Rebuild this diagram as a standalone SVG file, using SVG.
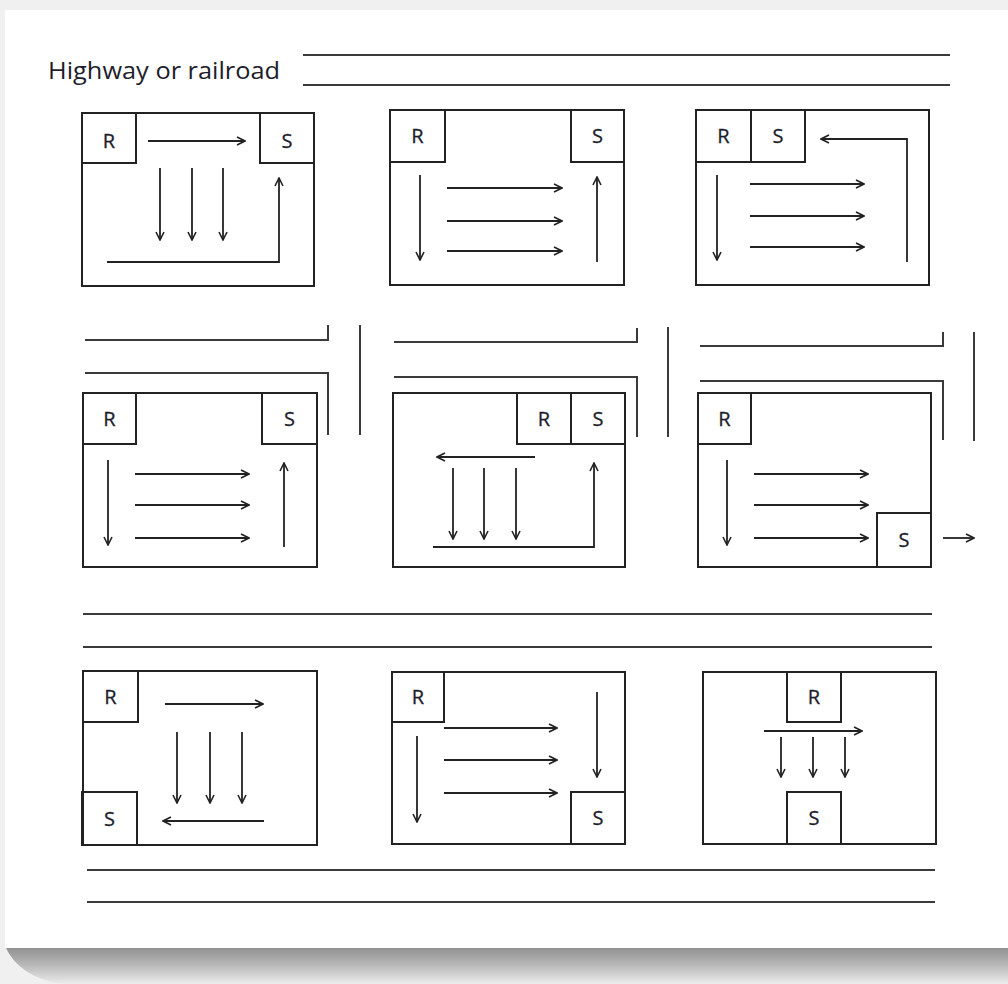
<svg xmlns="http://www.w3.org/2000/svg" width="1008" height="984" viewBox="0 0 1008 984">
<defs>
<linearGradient id="shadow" x1="0" y1="0" x2="0" y2="1">
<stop offset="0" stop-color="#8c8c8c"/>
<stop offset="0.5" stop-color="#b8b8b8"/>
<stop offset="1" stop-color="#ececec"/>
</linearGradient>
<marker id="arr" viewBox="0 0 10 10" refX="9" refY="5" markerWidth="10" markerHeight="10" markerUnits="userSpaceOnUse" orient="auto">
<path d="M1,1 L9,5 L1,9" fill="none" stroke="#222" stroke-width="1.6"/>
</marker>
</defs>
<style>
.box{fill:none;stroke:#222;stroke-width:2}
.road{fill:none;stroke:#3a3a3a;stroke-width:2}
.arrow{fill:none;stroke:#222;stroke-width:1.8;marker-end:url(#arr)}
.lbl{font-family:"Open Sans","Liberation Sans",sans-serif;font-size:20px;fill:#1d1d2b;text-anchor:middle;stroke:#1d1d2b;stroke-width:0.3}
.title{font-family:"Open Sans","Liberation Sans",sans-serif;font-size:24px;fill:#1d1d2b}
</style>
<rect x="0" y="0" width="1008" height="984" fill="#f0f0f0"/>
<path d="M5,946 H1008 V984 H60 Q18,976 5,946 Z" fill="url(#shadow)"/>
<rect x="5" y="10" width="1003" height="938" fill="#ffffff"/>
<text class="title" x="48" y="79" textLength="232" lengthAdjust="spacingAndGlyphs">Highway or railroad</text>

<g id="roads">
<path class="road" d="M303,55 H950 M303,85 H950"/>
<path class="road" d="M85,340 H328 V325 M85,373 H328 V435 M360,325 V435"/>
<path class="road" d="M394,342 H637 V328 M394,377 H637 V437 M668,327 V437"/>
<path class="road" d="M700,346 H943 V332 M700,381 H943 V440 M974,332 V441"/>
<path class="road" d="M83,614 H932 M83,647 H932"/>
<path class="road" d="M87,870 H935 M87,902 H935"/>
</g>

<g id="panel1">
<rect class="box" x="82" y="113" width="232" height="173"/>
<g id="p1-R"><rect class="box" x="82" y="113" width="54" height="50"/><text class="lbl" x="109" y="148">R</text></g>
<g id="p1-S"><rect class="box" x="260" y="113" width="54" height="50"/><text class="lbl" x="287" y="148">S</text></g>
</g>
<g id="panel2">
<rect class="box" x="390" y="110" width="234" height="175"/>
<g id="p2-R"><rect class="box" x="390" y="110" width="55" height="52"/><text class="lbl" x="417.5" y="143">R</text></g>
<g id="p2-S"><rect class="box" x="571" y="110" width="53" height="52"/><text class="lbl" x="597.5" y="143">S</text></g>
</g>
<g id="panel3">
<rect class="box" x="696" y="110" width="233" height="175"/>
<g id="p3-R"><rect class="box" x="696" y="110" width="55" height="52"/><text class="lbl" x="723.5" y="143">R</text></g>
<g id="p3-S"><rect class="box" x="751" y="110" width="54" height="52"/><text class="lbl" x="778" y="143">S</text></g>
</g>
<g id="panel4">
<rect class="box" x="83" y="393" width="234" height="174"/>
<g id="p4-R"><rect class="box" x="83" y="393" width="53" height="51"/><text class="lbl" x="109.5" y="425.5">R</text></g>
<g id="p4-S"><rect class="box" x="262" y="393" width="55" height="51"/><text class="lbl" x="289.5" y="425.5">S</text></g>
</g>
<g id="panel5">
<rect class="box" x="393" y="393" width="232" height="174"/>
<g id="p5-R"><rect class="box" x="517" y="393" width="54" height="51"/><text class="lbl" x="544" y="425.5">R</text></g>
<g id="p5-S"><rect class="box" x="571" y="393" width="54" height="51"/><text class="lbl" x="598" y="425.5">S</text></g>
</g>
<g id="panel6">
<rect class="box" x="698" y="393" width="233" height="174"/>
<g id="p6-R"><rect class="box" x="698" y="393" width="53" height="51"/><text class="lbl" x="724.5" y="425.5">R</text></g>
<g id="p6-S"><rect class="box" x="877" y="513" width="54" height="54"/><text class="lbl" x="904" y="547">S</text></g>
</g>
<g id="panel7">
<rect class="box" x="83" y="671" width="234" height="174"/>
<g id="p7-R"><rect class="box" x="83" y="671" width="55" height="51"/><text class="lbl" x="110.5" y="703.5">R</text></g>
<g id="p7-S"><rect class="box" x="82" y="792" width="55" height="53"/><text class="lbl" x="109.5" y="825.5">S</text></g>
</g>
<g id="panel8">
<rect class="box" x="392" y="672" width="233" height="172"/>
<g id="p8-R"><rect class="box" x="392" y="672" width="52" height="50"/><text class="lbl" x="418" y="704">R</text></g>
<g id="p8-S"><rect class="box" x="571" y="792" width="54" height="52"/><text class="lbl" x="598" y="825">S</text></g>
</g>
<g id="panel9">
<rect class="box" x="703" y="672" width="233" height="172"/>
<g id="p9-R"><rect class="box" x="787" y="672" width="54" height="50"/><text class="lbl" x="814" y="704">R</text></g>
<g id="p9-S"><rect class="box" x="787" y="792" width="54" height="52"/><text class="lbl" x="814" y="825">S</text></g>
</g>

<g id="connectors">
<path class="arrow" d="M148,141 H245"/>
<path class="arrow" d="M160,168 V240"/>
<path class="arrow" d="M192,168 V240"/>
<path class="arrow" d="M223,168 V240"/>
<path class="arrow" d="M107,262 H279 V178"/>

<path class="arrow" d="M420,175 V260"/>
<path class="arrow" d="M447,188 H562"/>
<path class="arrow" d="M447,221 H562"/>
<path class="arrow" d="M447,251 H562"/>
<path class="arrow" d="M597,262 V177"/>

<path class="arrow" d="M907,262 V139 H821"/>
<path class="arrow" d="M717,175 V260"/>
<path class="arrow" d="M750,184 H864"/>
<path class="arrow" d="M750,216 H864"/>
<path class="arrow" d="M750,247 H864"/>

<path class="arrow" d="M108,460 V545"/>
<path class="arrow" d="M135,474 H249"/>
<path class="arrow" d="M135,505 H249"/>
<path class="arrow" d="M135,538 H249"/>
<path class="arrow" d="M284,547 V463"/>

<path class="arrow" d="M535,457 H437"/>
<path class="arrow" d="M453,468 V539"/>
<path class="arrow" d="M484,468 V539"/>
<path class="arrow" d="M516,468 V539"/>
<path class="arrow" d="M433,547 H594 V463"/>

<path class="arrow" d="M727,460 V545"/>
<path class="arrow" d="M754,474 H868"/>
<path class="arrow" d="M754,505 H868"/>
<path class="arrow" d="M754,538 H868"/>
<path class="arrow" d="M943,538 H974"/>

<path class="arrow" d="M165,704 H263"/>
<path class="arrow" d="M177,732 V803"/>
<path class="arrow" d="M210,732 V803"/>
<path class="arrow" d="M242,732 V803"/>
<path class="arrow" d="M264,821 H163"/>

<path class="arrow" d="M417,736 V822"/>
<path class="arrow" d="M444,728 H557"/>
<path class="arrow" d="M444,760 H557"/>
<path class="arrow" d="M444,793 H557"/>
<path class="arrow" d="M597,692 V777"/>

<path class="arrow" d="M764,731 H862"/>
<path class="arrow" d="M781,737 V777"/>
<path class="arrow" d="M813,737 V777"/>
<path class="arrow" d="M845,737 V777"/>
</g>
</svg>
